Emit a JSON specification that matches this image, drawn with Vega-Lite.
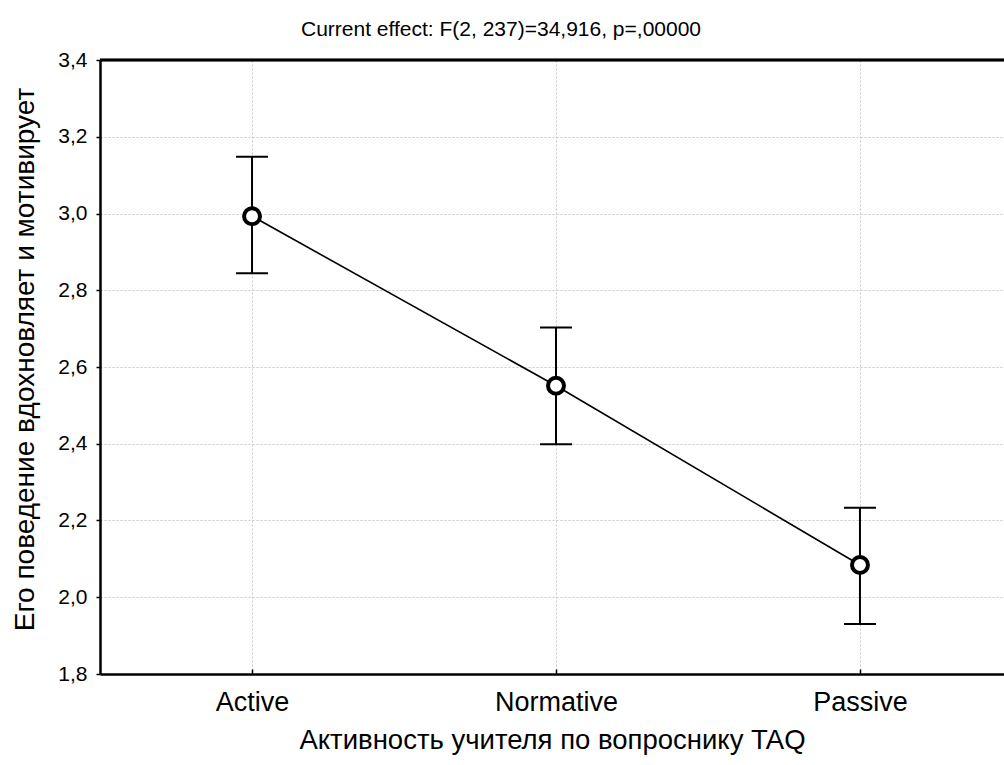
{
  "$schema": "https://vega.github.io/schema/vega-lite/v6.json",
  "width": 904,
  "height": 614,
  "autosize": {"type": "none"},
  "padding": {"left": 100, "top": 60, "right": 0, "bottom": 91},
  "background": "white",
  "config": {
    "view": {"stroke": null},
    "font": "Liberation Sans",
    "axis": {
      "labelFont": "Liberation Sans",
      "titleFont": "Liberation Sans",
      "labelColor": "black",
      "titleColor": "black",
      "titleFontWeight": "normal",
      "domainColor": "black",
      "domainWidth": 2.5,
      "tickColor": "black",
      "tickWidth": 1.5,
      "grid": true,
      "gridColor": "#c8c8c8",
      "gridDash": [2, 2],
      "gridWidth": 1
    }
  },
  "title": {
    "text": "Current effect: F(2, 237)=34,916, p=,00000",
    "fontSize": 21,
    "fontWeight": "normal",
    "font": "Liberation Sans",
    "color": "black",
    "anchor": "middle",
    "frame": "group",
    "dx": -51,
    "dy": 23,
    "baseline": "alphabetic",
    "offset": 15
  },
  "data": {
    "values": [
      {"group": "Active", "mean": 2.993, "lo": 2.844, "hi": 3.148},
      {"group": "Normative", "mean": 2.551, "lo": 2.399, "hi": 2.703},
      {"group": "Passive", "mean": 2.084, "lo": 1.93, "hi": 2.233}
    ]
  },
  "layer": [
    {
      "mark": {"type": "line", "color": "black", "strokeWidth": 1.6},
      "encoding": {
        "x": {
          "field": "group",
          "type": "nominal",
          "sort": null,
          "scale": {"type": "point", "padding": 0.487, "align": 0.5135},
          "axis": {
            "title": "Активность учителя по вопроснику TAQ",
            "labelAngle": 0,
            "labelFontSize": 27,
            "titleFontSize": 27.5,
            "tickSize": -5,
            "labelPadding": 20,
            "titleY": 74,
            "titleBaseline": "alphabetic"
          }
        },
        "y": {
          "field": "mean",
          "type": "quantitative",
          "scale": {"domain": [1.8, 3.4], "nice": false, "zero": false},
          "axis": {
            "title": "Его поведение вдохновляет и мотивирует",
            "values": [1.8, 2.0, 2.2, 2.4, 2.6, 2.8, 3.0, 3.2, 3.4],
            "labelExpr": "replace(format(datum.value, '.1f'), '.', ',')",
            "labelFontSize": 21,
            "titleFontSize": 28,
            "tickSize": 4,
            "labelPadding": 9,
            "titleX": -67,
            "titleY": 299,
            "titleAngle": 270,
            "titleAlign": "center",
            "titleBaseline": "alphabetic"
          }
        }
      }
    },
    {
      "mark": {"type": "rule", "color": "black", "strokeWidth": 2},
      "encoding": {
        "x": {"field": "group", "type": "nominal", "sort": null},
        "y": {"field": "lo", "type": "quantitative"},
        "y2": {"field": "hi"}
      }
    },
    {
      "mark": {"type": "tick", "color": "black", "size": 32, "thickness": 2, "opacity": 1},
      "encoding": {
        "x": {"field": "group", "type": "nominal", "sort": null},
        "y": {"field": "lo", "type": "quantitative"}
      }
    },
    {
      "mark": {"type": "tick", "color": "black", "size": 32, "thickness": 2, "opacity": 1},
      "encoding": {
        "x": {"field": "group", "type": "nominal", "sort": null},
        "y": {"field": "hi", "type": "quantitative"}
      }
    },
    {
      "mark": {"type": "point", "filled": true, "fill": "white", "stroke": "black", "strokeWidth": 4, "size": 254, "opacity": 1},
      "encoding": {
        "x": {"field": "group", "type": "nominal", "sort": null},
        "y": {"field": "mean", "type": "quantitative"}
      }
    },
    {
      "mark": {"type": "rule", "color": "black", "strokeWidth": 2.5},
      "encoding": {"y": {"datum": 3.4}}
    }
  ]
}
